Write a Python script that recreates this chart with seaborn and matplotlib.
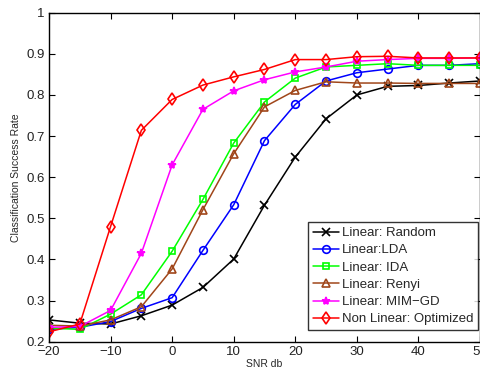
import matplotlib
matplotlib.use("Agg")
import matplotlib.pyplot as plt
import seaborn as sns
import pandas as pd

snr = [-20, -15, -10, -5, 0, 5, 10, 15, 20, 25, 30, 35, 40, 45, 50]
labels = ["Linear: Random", "Linear:LDA", "Linear: IDA", "Linear: Renyi",
          "Linear: MIM\u2212GD", "Non Linear: Optimized"]
random_v = [0.253, 0.245, 0.243, 0.263, 0.289, 0.332, 0.401, 0.532, 0.649, 0.742, 0.800, 0.821, 0.823, 0.829, 0.834]
lda_v = [0.230, 0.235, 0.249, 0.281, 0.307, 0.422, 0.533, 0.689, 0.777, 0.834, 0.854, 0.863, 0.872, 0.872, 0.876]
ida_v = [0.233, 0.230, 0.267, 0.314, 0.420, 0.546, 0.683, 0.783, 0.841, 0.868, 0.872, 0.876, 0.872, 0.872, 0.872]
renyi_v = [0.240, 0.238, 0.253, 0.285, 0.377, 0.521, 0.657, 0.771, 0.811, 0.832, 0.829, 0.829, 0.828, 0.828, 0.828]
mim_v = [0.235, 0.237, 0.276, 0.415, 0.630, 0.765, 0.810, 0.837, 0.856, 0.868, 0.882, 0.886, 0.889, 0.889, 0.890]
nonlin_v = [0.224, 0.243, 0.480, 0.714, 0.789, 0.824, 0.844, 0.862, 0.886, 0.886, 0.893, 0.894, 0.890, 0.890, 0.890]

series = [random_v, lda_v, ida_v, renyi_v, mim_v, nonlin_v]
colors = ["#000000", "#0000FF", "#00FF00", "#A0461A", "#FF00FF", "#FF0000"]
markers = ["x", "o", "s", "^", "*", "d"]
msizes = [5.5, 5.5, 5, 6, 6, 6]

sns.set_style("white")
plt.rcParams["font.family"] = ["Liberation Sans", "DejaVu Sans"]

fig = plt.figure(figsize=(4.81, 3.67), dpi=100)
ax = fig.add_axes([49 / 481, 1 - 341.7 / 367, 431 / 481, (341.7 - 12.7) / 367])

for lab, vals, c, m, ms in zip(labels, series, colors, markers, msizes):
    df = pd.DataFrame({"SNR": snr, "rate": vals})
    kw = dict(marker=m, markersize=ms, markeredgewidth=1.2,
              linewidth=1.1, color=c, markeredgecolor=c)
    if m not in ("x", "*"):
        kw["markerfacecolor"] = "none"
    else:
        kw["markerfacecolor"] = c
    sns.lineplot(data=df, x="SNR", y="rate", ax=ax, label=lab, **kw)

ax.set_xlim(-20, 50)
ax.set_ylim(0.2, 1.0)
ax.set_xticks(range(-20, 51, 10))
ax.set_xticklabels([f"\u2212{abs(t)}" if t < 0 else str(t) for t in range(-20, 51, 10)])
ax.set_yticks([0.2, 0.3, 0.4, 0.5, 0.6, 0.7, 0.8, 0.9, 1.0])
ax.set_yticklabels(["0.2", "0.3", "0.4", "0.5", "0.6", "0.7", "0.8", "0.9", "1"])
ax.tick_params(direction="in", length=4, width=0.8, labelsize=9.5, top=True, right=True,
               bottom=True, left=True, pad=3, colors="black", labelcolor="#222222")
for s in ax.spines.values():
    s.set_visible(True)
    s.set_color("black")
    s.set_linewidth(1.0)
ax.set_xlabel("SNR db", fontsize=7.5, labelpad=1)
ax.set_ylabel("Classification Success Rate", fontsize=7.5, labelpad=4)

leg = ax.legend(loc="lower right", fontsize=9.5, frameon=True, fancybox=False,
                edgecolor="black", borderaxespad=0.0,
                bbox_to_anchor=(478 / 481, 1 - 330 / 367), bbox_transform=fig.transFigure,
                handlelength=2.0, handletextpad=0.2, labelspacing=0.38, borderpad=0.35)
leg.get_frame().set_linewidth(1.0)

fig.savefig("out.png", dpi=100)
